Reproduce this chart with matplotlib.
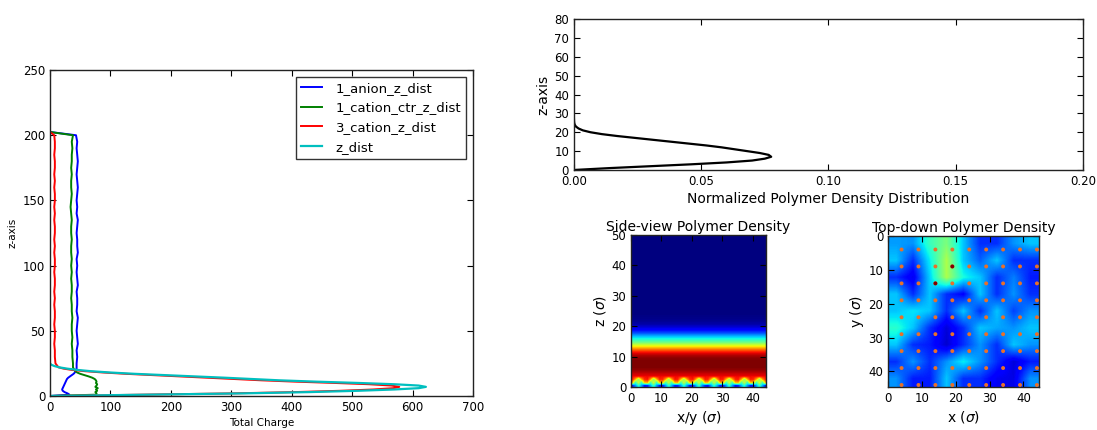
import matplotlib
matplotlib.use('Agg')
import matplotlib.pyplot as plt
import numpy as np

# ==========================================
# DATA
# ==========================================
# charge profiles vs z, dense near the wall then coarse in the bulk
charge_z = [0, 1, 2, 3, 4, 5, 6, 7, 8, 9, 10, 11, 12, 13, 14, 15, 16, 17, 18, 19, 20, 21, 22,
            25, 30, 35, 40, 45, 50, 55, 60, 65, 70, 75, 80, 85, 90, 95, 100, 105, 110,
            115, 120, 125, 130, 135, 140, 145, 150, 155, 160, 165, 170, 175, 180, 185,
            190, 195, 200, 202.5]

anion_charge = [0, 32, 29, 24, 21, 20, 21, 22, 23, 24, 25, 26, 27, 28, 30, 33, 36, 39, 41, 42, 43, 44, 44,
                44, 45, 44, 46, 45, 44,
                45, 46, 44, 45, 45, 44,
                46, 45, 44, 45, 44, 46,
                45, 45, 44, 45, 46, 44,
                45, 44, 45, 46, 45, 44,
                45, 46, 45, 44, 45, 43,
                0]

cation_ctr_charge = [0, 76, 77, 75, 78, 76, 79, 75, 77, 78, 76, 77, 76, 74, 70, 64, 57, 50, 45, 42, 40, 39, 38,
                     38, 37, 37, 36, 37, 36,
                     36, 37, 36, 36, 35, 36,
                     36, 35, 36, 35, 36, 35,
                     35, 36, 35, 35, 36, 35,
                     34, 35, 36, 35, 35, 36,
                     35, 36, 36, 37, 36, 38,
                     0]

cation3_charge = [0, 150, 300, 405, 480, 535, 568, 578, 565, 528, 470, 405, 350, 305, 260, 215, 170, 125, 88, 58, 36, 22, 14,
                  9, 8, 8, 7, 8, 8,
                  7, 8, 8, 7, 8, 7,
                  8, 8, 7, 8, 8, 7,
                  8, 7, 8, 8, 7, 8,
                  7, 8, 8, 7, 8, 7,
                  8, 8, 7, 8, 8, 7,
                  0]

z_dist_z = [0, 1, 2, 3, 4, 5, 6, 7, 8, 9, 10, 11, 12, 13, 14, 15, 16, 17, 18, 19, 20, 21, 22, 23, 24, 25]
z_dist_charge = [0, 160, 320, 430, 510, 570, 610, 622, 610, 570, 510, 440, 380, 335, 290, 240, 190, 140, 100, 68,
                 45, 28, 15, 7, 2, 0]

# normalized polymer density vs z
density_z = [0, 1, 2, 3, 4, 5, 6, 7, 8, 9, 10, 11, 12, 13, 14, 15, 16, 17, 18, 19, 20,
             21, 22, 23, 24, 25, 26, 27]
density_vals = [0, 0.014, 0.030, 0.046, 0.060, 0.070, 0.075, 0.0775, 0.0765, 0.073, 0.068, 0.063,
                0.058, 0.052, 0.045, 0.038, 0.031, 0.024, 0.017, 0.011, 0.0065, 0.0035, 0.0018,
                0.0008, 0.0003, 0.0001, 0.00003, 0]

# side-view density: three rows next to the wall (z = 0..3), one column per sigma
side_wall_rows = [
    [0.15, 0.28, 0.40, 0.29, 0.14, 0.16, 0.30, 0.42, 0.28, 0.15, 0.14, 0.29, 0.41, 0.30, 0.15,
     0.16, 0.28, 0.40, 0.29, 0.14, 0.15, 0.30, 0.42, 0.28, 0.16, 0.14, 0.29, 0.40, 0.30, 0.15,
     0.15, 0.28, 0.41, 0.29, 0.14, 0.16, 0.30, 0.40, 0.28, 0.15, 0.14, 0.29, 0.42, 0.30, 0.15],
    [0.73, 0.42, 0.60, 0.43, 0.72, 0.74, 0.44, 0.62, 0.42, 0.71, 0.72, 0.43, 0.60, 0.44, 0.73,
     0.74, 0.42, 0.61, 0.43, 0.72, 0.71, 0.44, 0.62, 0.42, 0.73, 0.72, 0.43, 0.60, 0.44, 0.74,
     0.73, 0.42, 0.61, 0.43, 0.72, 0.74, 0.44, 0.60, 0.42, 0.71, 0.72, 0.43, 0.62, 0.44, 0.73],
    [0.88, 0.72, 0.52, 0.73, 0.87, 0.89, 0.74, 0.50, 0.72, 0.88, 0.87, 0.73, 0.52, 0.74, 0.89,
     0.88, 0.72, 0.51, 0.73, 0.87, 0.89, 0.74, 0.52, 0.72, 0.88, 0.87, 0.73, 0.50, 0.74, 0.89,
     0.88, 0.72, 0.52, 0.73, 0.87, 0.89, 0.74, 0.51, 0.72, 0.88, 0.87, 0.73, 0.52, 0.74, 0.88],
]
# laterally averaged profile for z = 3..49
side_profile = [0.90, 0.94, 0.98, 1.00, 1.00, 1.00, 0.99, 0.95, 0.88, 0.76, 0.63, 0.50, 0.40, 0.32,
                0.22, 0.14, 0.08, 0.04, 0.02, 0.01, 0.004,
                0, 0, 0, 0, 0, 0, 0, 0, 0, 0, 0, 0, 0, 0, 0, 0, 0, 0, 0, 0, 0, 0, 0, 0, 0, 0]

# top-down density, coarse 5 sigma cells (rows = y from the top)
top_density = [
    [0.28, 0.27, 0.42, 0.50, 0.32, 0.17, 0.17, 0.27, 0.32],
    [0.32, 0.17, 0.36, 0.56, 0.32, 0.22, 0.32, 0.17, 0.17],
    [0.17, 0.10, 0.33, 0.56, 0.38, 0.32, 0.17, 0.25, 0.15],
    [0.32, 0.17, 0.32, 0.17, 0.12, 0.32, 0.17, 0.27, 0.17],
    [0.32, 0.35, 0.32, 0.17, 0.32, 0.17, 0.32, 0.19, 0.27],
    [0.40, 0.32, 0.17, 0.08, 0.17, 0.32, 0.29, 0.27, 0.32],
    [0.32, 0.17, 0.15, 0.07, 0.17, 0.27, 0.17, 0.32, 0.27],
    [0.17, 0.27, 0.17, 0.27, 0.36, 0.27, 0.17, 0.08, 0.15],
    [0.27, 0.15, 0.15, 0.32, 0.17, 0.17, 0.10, 0.09, 0.27],
]
graft_x = [4, 9, 14, 19, 24, 29, 34, 39, 44]
graft_y = [4, 9, 14, 19, 24, 29, 34, 39, 44]
dark_graft_x = [19, 14]
dark_graft_y = [9, 14]

# ==========================================
# FIGURE
# ==========================================
fig = plt.figure(figsize=(10.97, 4.30), dpi=100)
fig.patch.set_facecolor('white')


def style_axes(ax, size):
    ax.tick_params(direction='in', top=True, right=True, labelsize=size, length=4, width=0.8)
    for s in ax.spines.values():
        s.set_linewidth(1.0)
        s.set_color('#222222')


# ---- left: charge distribution ----
ax1 = fig.add_axes([0.0456, 0.0791, 0.3856, 0.758])
ax1.plot(anion_charge, charge_z, color='blue', lw=1.4, label='1_anion_z_dist')
ax1.plot(cation_ctr_charge, charge_z, color='green', lw=1.4, label='1_cation_ctr_z_dist')
ax1.plot(cation3_charge, charge_z, color='red', lw=1.4, label='3_cation_z_dist')
ax1.plot(z_dist_charge, z_dist_z, color='#00bfbf', lw=1.6, label='z_dist')
ax1.set_xlim(0, 700)
ax1.set_ylim(0, 250)
ax1.set_xticks(range(0, 701, 100))
ax1.set_yticks(range(0, 251, 50))
ax1.set_xlabel('Total Charge', fontsize=7.5, labelpad=3)
ax1.set_ylabel('z-axis', fontsize=7.5, labelpad=4)
style_axes(ax1, 8.5)
leg = ax1.legend(loc='upper right', fontsize=9.5, handlelength=1.6, handletextpad=1.0,
                 borderaxespad=0.5, fancybox=False, framealpha=1)
leg.get_frame().set_edgecolor('#333333')
leg.get_frame().set_linewidth(1.0)

# ---- top right: polymer density profile ----
ax2 = fig.add_axes([0.5232, 0.6047, 0.464, 0.351])
ax2.plot(density_vals, density_z, color='black', lw=1.6)
ax2.set_xlim(0, 0.2)
ax2.set_ylim(0, 80)
ax2.set_xticks([0, 0.05, 0.10, 0.15, 0.20])
ax2.set_xticklabels(['0.00', '0.05', '0.10', '0.15', '0.20'])
ax2.set_yticks(range(0, 81, 10))
ax2.set_xlabel('Normalized Polymer Density Distribution', fontsize=10, labelpad=3)
ax2.set_ylabel('z-axis', fontsize=10, labelpad=3)
style_axes(ax2, 8.5)

# ---- side view heatmap ----
side_img = np.vstack([np.array(side_wall_rows),
                      np.repeat(np.array(side_profile)[:, None], len(side_wall_rows[0]), axis=1)])
ax3 = fig.add_axes([0.5752, 0.10, 0.1231, 0.3535])
ax3.imshow(side_img, cmap='jet', vmin=0, vmax=1, origin='lower', aspect='auto',
           extent=[0, 44.4, 0, 50], interpolation='bilinear')
ax3.set_xticks([0, 10, 20, 30, 40])
ax3.set_yticks([0, 10, 20, 30, 40, 50])
ax3.set_title('Side-view Polymer Density', fontsize=10, pad=3)
ax3.set_xlabel(r'x/y ($\sigma$)', fontsize=10, labelpad=3)
ax3.set_ylabel(r'z ($\sigma$)', fontsize=10, labelpad=2)
style_axes(ax3, 8.5)

# ---- top-down heatmap ----
ax4 = fig.add_axes([0.8095, 0.10, 0.1376, 0.3512])
ax4.imshow(np.array(top_density), cmap='jet', vmin=0, vmax=1, origin='upper', aspect='auto',
           extent=[0, 44.6, 44.6, 0], interpolation='bilinear')
gx, gy = np.meshgrid(graft_x, graft_y)
ax4.scatter(gx.ravel(), gy.ravel(), s=8, color='#e8702a', edgecolors='none', zorder=4)
ax4.scatter(dark_graft_x, dark_graft_y, s=8, color='#800000', edgecolors='none', zorder=5)
ax4.set_xlim(0, 44.6)
ax4.set_ylim(44.6, 0)
ax4.set_xticks([0, 10, 20, 30, 40])
ax4.set_yticks([0, 10, 20, 30, 40])
ax4.set_title('Top-down Polymer Density', fontsize=10, pad=3)
ax4.set_xlabel(r'x ($\sigma$)', fontsize=10, labelpad=3)
ax4.set_ylabel(r'y ($\sigma$)', fontsize=10, labelpad=2)
style_axes(ax4, 8.5)

plt.savefig('out.png', dpi=100)
plt.close()
